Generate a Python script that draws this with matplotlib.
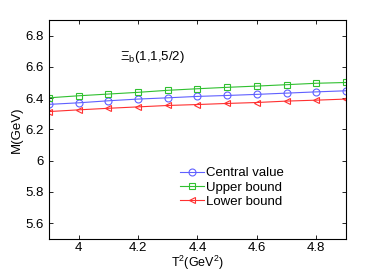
import matplotlib
matplotlib.use('Agg')
import matplotlib.pyplot as plt
from matplotlib.ticker import FormatStrFormatter

plt.rcParams['font.family'] = ['Liberation Sans', 'DejaVu Sans']
plt.rcParams['mathtext.fontset'] = 'custom'
plt.rcParams['mathtext.rm'] = 'Liberation Sans'
plt.rcParams['mathtext.it'] = 'Liberation Sans'

# Borel parameter T^2 (GeV^2)
T2 = [3.9, 4.0, 4.1, 4.2, 4.3, 4.4, 4.5, 4.6, 4.7, 4.8, 4.9]
central = [6.360, 6.370, 6.383, 6.394, 6.402, 6.411, 6.417, 6.424, 6.432, 6.440, 6.447]
upper = [6.402, 6.415, 6.426, 6.437, 6.450, 6.460, 6.469, 6.477, 6.486, 6.495, 6.500]
lower = [6.314, 6.325, 6.335, 6.344, 6.353, 6.359, 6.366, 6.372, 6.381, 6.387, 6.394]

fig = plt.figure(figsize=(3.82, 2.73), dpi=100)
ax = fig.add_axes([0.128, 0.125, 0.778, 0.802])

ax.plot(T2, central, color='#6060ff', marker='o', mfc='none', ms=5, lw=0.8, mew=0.8, label='Central value')
ax.plot(T2, upper, color='#30c030', marker='s', mfc='none', ms=4.5, lw=0.8, mew=0.8, label='Upper bound')
ax.plot(T2, lower, color='#ff3030', marker='<', mfc='none', ms=5, lw=0.8, mew=0.8, label='Lower bound')

ax.set_xlim(3.9, 4.9)
ax.set_ylim(5.5, 6.9)
ax.set_xticks([4.0, 4.2, 4.4, 4.6, 4.8])
ax.set_yticks([5.6, 5.8, 6.0, 6.2, 6.4, 6.6, 6.8])
ax.xaxis.set_major_formatter(FormatStrFormatter('%g'))
ax.yaxis.set_major_formatter(FormatStrFormatter('%g'))
ax.tick_params(direction='in', top=True, right=True, labelsize=9.5, length=3, width=0.6)
ax.tick_params(axis='x', pad=2)
for s in ax.spines.values():
    s.set_linewidth(0.8)

ax.text(4.14, 6.66, r'$\Xi_{\rm b}$(1,1,5/2)', fontsize=9.5, va='center', ha='left')

ax.set_xlabel('T$^2$(GeV$^2$)', fontsize=9, labelpad=0)
ax.set_ylabel('M(GeV)', fontsize=9.5, labelpad=2)

ax.legend(loc='upper left', bbox_to_anchor=(0.41, 0.37), frameon=False, fontsize=9.5,
          handlelength=1.8, handletextpad=0.2, labelspacing=0.15, borderpad=0.2)

fig.savefig('out.png', dpi=100)
